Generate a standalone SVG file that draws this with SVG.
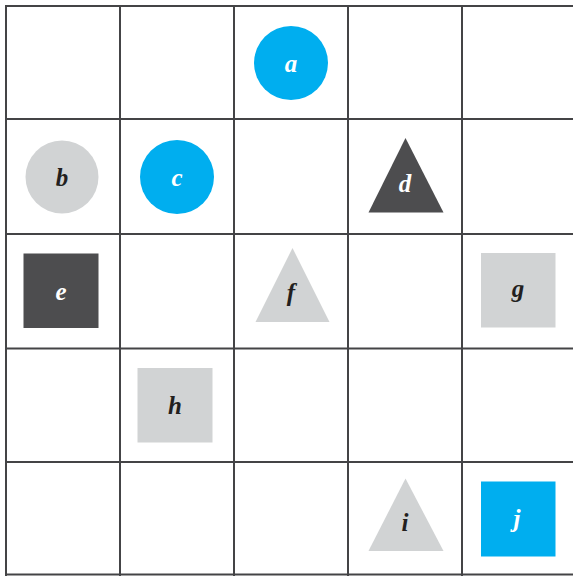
<svg xmlns="http://www.w3.org/2000/svg" width="573" height="576" viewBox="0 0 573 576">
<style>
.grid line{stroke:#444446;stroke-width:2}
.blue{fill:#00AEEF}
.gray{fill:#D1D3D4}
.dark{fill:#4D4D4F}
text{font-family:"Liberation Serif","Times New Roman",serif;font-style:italic;font-weight:bold;font-size:25px;text-anchor:middle}
.lt{fill:#FFFFFF}
.dk{fill:#231F20}
</style>
<rect width="573" height="576" fill="#FFFFFF"/>
<g id="grid" class="grid">
<line x1="6" y1="6" x2="580" y2="6"/>
<line x1="6" y1="119" x2="580" y2="119"/>
<line x1="6" y1="234" x2="580" y2="234"/>
<line x1="6" y1="348.5" x2="580" y2="348.5"/>
<line x1="6" y1="462" x2="580" y2="462"/>
<line x1="6" y1="574.5" x2="580" y2="574.5"/>
<line x1="6" y1="5" x2="6" y2="576"/>
<line x1="120" y1="5" x2="120" y2="576"/>
<line x1="234" y1="5" x2="234" y2="576"/>
<line x1="348" y1="5" x2="348" y2="576"/>
<line x1="462" y1="5" x2="462" y2="576"/>
</g>
<g id="a"><circle class="blue" cx="291" cy="63" r="37"/><text class="lt" x="291" y="72">a</text></g>
<g id="b"><circle class="gray" cx="62" cy="177" r="36.5"/><text class="dk" x="62" y="186">b</text></g>
<g id="c"><circle class="blue" cx="177" cy="177" r="37"/><text class="lt" x="177" y="186">c</text></g>
<g id="d"><polygon class="dark" points="405.5,138 443.5,212.5 368.5,212.5"/><text class="lt" x="405" y="192">d</text></g>
<g id="e"><rect class="dark" x="23.5" y="253.5" width="75" height="74.5"/><text class="lt" x="61" y="300">e</text></g>
<g id="f"><polygon class="gray" points="292.5,248 329.5,322 255.5,322"/><text class="dk" x="291" y="301">f</text></g>
<g id="g"><rect class="gray" x="481" y="253" width="74.5" height="74.5"/><text class="dk" x="518" y="297">g</text></g>
<g id="h"><rect class="gray" x="137.5" y="368" width="75" height="74.5"/><text class="dk" x="175" y="414">h</text></g>
<g id="i"><polygon class="gray" points="405.5,478.5 443.5,551 368.5,551"/><text class="dk" x="405" y="531">i</text></g>
<g id="j"><rect class="blue" x="481" y="481.5" width="74.5" height="75"/><text class="lt" x="517" y="527">j</text></g>
<g id="connectors"/>
</svg>
